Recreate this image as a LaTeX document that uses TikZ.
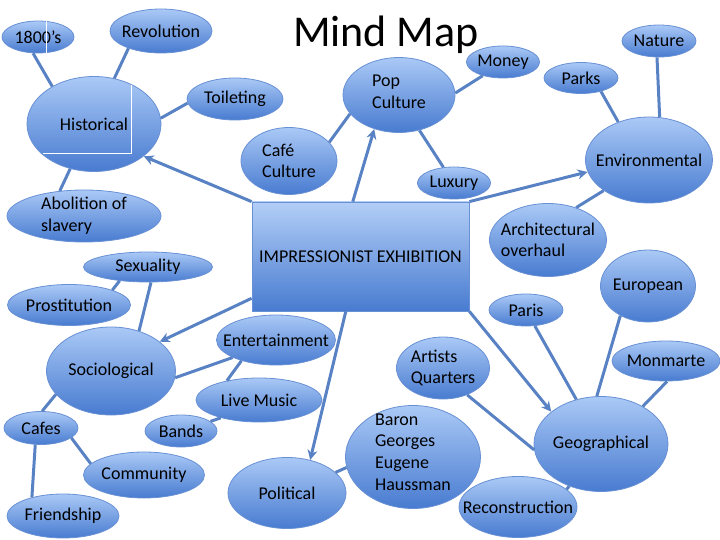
\documentclass[tikz,border=0pt]{standalone}
\usepackage{fontspec}
\setmainfont{Carlito}
\usepackage{xcolor}
\usepackage{tikz}
\usetikzlibrary{arrows.meta,shapes.geometric}

\definecolor{bubbletop}{RGB}{170,201,246}
\definecolor{bubblebottom}{RGB}{72,123,208}
\definecolor{bubbleedge}{RGB}{104,144,212}
\definecolor{linkblue}{RGB}{88,130,196}

\begin{document}
\begin{tikzpicture}[x=1pt,y=-1pt,
    font=\fontsize{18}{21.6}\selectfont,
    bubble/.style={ellipse,draw=bubbleedge,line width=0.8pt,top color=bubbletop,bottom color=bubblebottom,inner sep=0pt},
    mainbox/.style={rectangle,draw=bubbleedge,line width=0.8pt,top color=bubbletop!90!white,bottom color=bubblebottom,inner sep=0pt},
    link/.style={linkblue,line width=3pt},
    push/.style={link,-{Stealth[length=10pt,width=10pt]}}]
    \useasboundingbox (0,0) rectangle (720,540);

    % Title
    \node[font=\fontsize{44}{50}\selectfont] (title) at (386,35) {Mind Map};

    % Centre
    \node[mainbox,minimum width=217,minimum height=109] (expo) at (360.5,256.5) {IMPRESSIONIST EXHIBITION};

    % Historical
    \node[bubble,minimum width=134,minimum height=95,label=center:Historical] (hist) at (94,124) {};
    \node[bubble,minimum width=72,minimum height=32,label=center:1800’s] (eighteen) at (38,37) {};
    \node[bubble,minimum width=102,minimum height=44,label=center:Revolution] (revol) at (161,31) {};
    \node[bubble,minimum width=96,minimum height=42,label=center:Toileting] (toilet) at (235,99) {};
    \node[bubble,minimum width=154,minimum height=52,label={[align=left]center:Abolition of\\slavery}] (abol) at (84,216) {};

    % white marks left in the picture
    \draw[white,line width=1pt] (46,21) -- (46,53);
    \draw[white,line width=1pt] (131,85) -- (131,154) -- (43,154);

    % Pop culture
    \node[bubble,minimum width=112,minimum height=75,label={[align=left,yshift=3.5pt]center:Pop\\Culture}] (pop) at (399,95) {};
    \node[bubble,minimum width=96,minimum height=67,label={[align=left]center:Café\\Culture}] (cafe) at (289,161) {};
    \node[bubble,minimum width=73,minimum height=32,label=center:Money] (money) at (503,62) {};
    \node[bubble,minimum width=73,minimum height=32,label=center:Luxury] (luxury) at (454,183) {};

    % Environmental
    \node[bubble,minimum width=127,minimum height=86,label=center:Environmental] (env) at (649,160) {};
    \node[bubble,minimum width=74,minimum height=32,label=center:Nature] (nature) at (659,41) {};
    \node[bubble,minimum width=74,minimum height=31,label=center:Parks] (parks) at (581,78) {};
    \node[bubble,minimum width=117,minimum height=73,label={[align=left]center:Architectural\\overhaul}] (arch) at (548,240) {};

    % Sociological
    \node[bubble,minimum width=129,minimum height=88,label=center:Sociological] (socio) at (111,371) {};
    \node[bubble,minimum width=129,minimum height=30,label=center:Sexuality] (sex) at (148,267) {};
    \node[bubble,minimum width=123,minimum height=41,label=center:Prostitution] (prost) at (69,305) {};
    \node[bubble,minimum width=119,minimum height=50,label=center:Entertainment] (ent) at (276,340) {};
    \node[bubble,minimum width=126,minimum height=44,label=center:Live Music] (live) at (259,400) {};
    \node[bubble,minimum width=72,minimum height=32,label=center:Bands] (bands) at (181,431) {};
    \node[bubble,minimum width=74,minimum height=33,label=center:Cafes] (cafes) at (41,428) {};
    \node[bubble,minimum width=121,minimum height=46,label=center:Community] (comm) at (144,475) {};
    \node[bubble,minimum width=112,minimum height=44,label=center:Friendship] (friend) at (63,516) {};

    % Political
    \node[bubble,minimum width=118,minimum height=71,label=center:Political] (pol) at (287,493) {};
    \node[bubble,minimum width=135,minimum height=103,label={[align=left,yshift=5pt]center:Baron\\Georges\\Eugene\\Haussman}] (baron) at (413,457) {};

    % Geographical
    \node[bubble,minimum width=134,minimum height=95,label=center:Geographical] (geo) at (601,444) {};
    \node[bubble,minimum width=93,minimum height=62,label={[align=left]center:Artists\\Quarters}] (artists) at (443,368) {};
    \node[bubble,minimum width=74,minimum height=32,label=center:Paris] (paris) at (526,310) {};
    \node[bubble,minimum width=95,minimum height=72,label=center:European] (euro) at (648,286) {};
    \node[bubble,minimum width=108,minimum height=40,label=center:Monmarte] (monm) at (666,361) {};
    \node[bubble,minimum width=118,minimum height=61,label=center:Reconstruction] (recon) at (518,507) {};

    % Arrows out of the centre
    \draw[push] (expo.north west) -- (hist.-33);
    \draw[push] (expo.98.6) -- (pop.-126);
    \draw[push] (expo.north east) -- (env.-169);
    \draw[push] (expo.-159.5) -- (socio.31);
    \draw[push] (expo.-105) -- (pol.55);
    \draw[push] (expo.south east) -- (geo.147);

    % Historical links
    \draw[link] (eighteen.-107) -- (hist.138);
    \draw[link] (revol.-152) -- (hist.66);
    \draw[link] (toilet.-175) -- (hist.5);
    \draw[link] (hist.-118.5) -- (abol.134);

    % Pop culture links
    \draw[link] (cafe.25) -- (pop.-159);
    \draw[link] (pop.2) -- (money.-146);
    \draw[link] (pop.-60) -- (luxury.124);

    % Environmental links
    \draw[link] (parks.-34) -- (env.129);
    \draw[link] (nature.-97) -- (env.76);
    \draw[link] (arch.49) -- (env.-146);

    % Sociological links
    \draw[link] (sex.-154) -- (prost.19);
    \draw[link] (sex.-79) -- (socio.55);
    \draw[link] (ent.-158) -- (socio.-6);
    \draw[link] (ent.-149) -- (live.149);
    \draw[link] (live.-155) -- (bands.18);
    \draw[link] (socio.-157) -- (cafes.86);
    \draw[link] (cafes.-18) -- (comm.168);
    \draw[link] (cafes.-109) -- (friend.149);

    % Political links
    \draw[link] (pol.23) -- (baron.-171);

    % Geographical links
    \draw[link] (artists.-48) -- (geo.-175);
    \draw[link] (paris.-61) -- (geo.119);
    \draw[link] (euro.-133) -- (geo.95);
    \draw[link] (monm.-87) -- (geo.42);
    \draw[link] (geo.-127) -- (recon.20);
\end{tikzpicture}
\end{document}
